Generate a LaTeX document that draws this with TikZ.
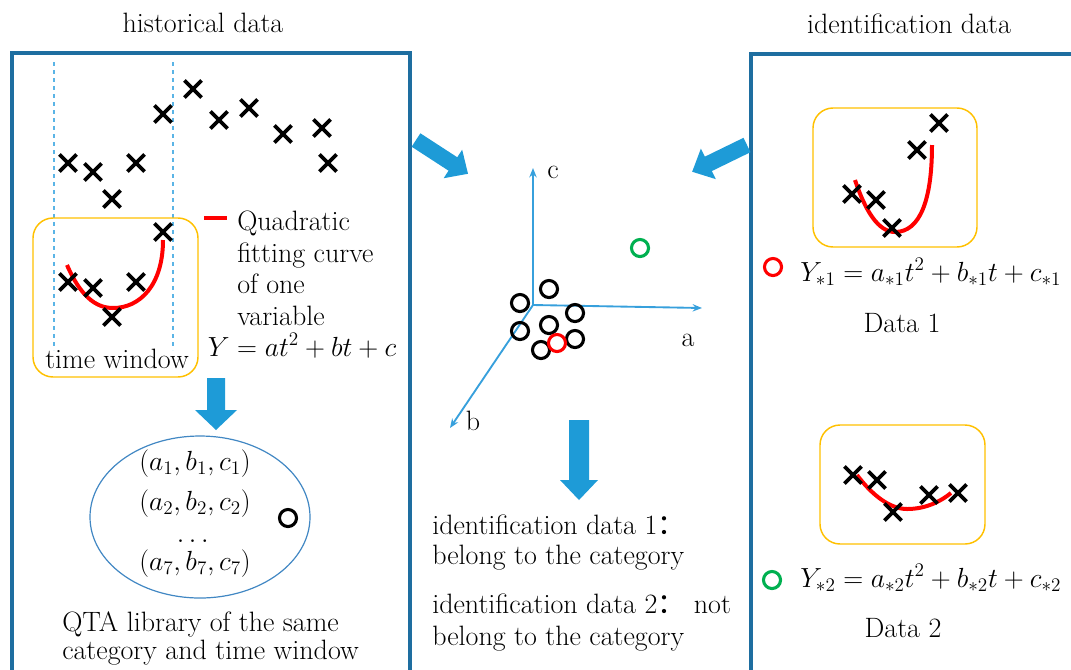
\documentclass[tikz,border=0pt]{standalone}
\usepackage{fontspec}
\usepackage{amsmath}
\usepackage{tikz}
\usetikzlibrary{shapes.misc,shapes.geometric,arrows.meta}
\newfontfamily\cjk{Noto Sans CJK SC}

\definecolor{boxblue}{RGB}{30,110,160}
\definecolor{arrowblue}{RGB}{30,155,215}
\definecolor{axisblue}{RGB}{55,160,220}
\definecolor{dashblue}{RGB}{90,180,230}
\definecolor{ellblue}{RGB}{65,135,195}
\definecolor{windoworange}{RGB}{255,192,0}
\definecolor{fitred}{RGB}{255,0,0}
\definecolor{ringgreen}{RGB}{0,176,80}

\tikzset{
  txt/.style={inner sep=0pt, font=\fontsize{21}{23.6}\selectfont},
  xmark/.style={cross out, draw=black, line width=2.7pt, minimum size=10.2pt, inner sep=0pt},
  ring/.style={circle, draw=#1, line width=2.3pt, minimum size=12.8pt, inner sep=0pt},
  ring/.default=black,
  window/.style={draw=windoworange, line width=1.1pt, rounded corners=15pt},
  fitcurve/.style={draw=fitred, line width=3pt},
  panel/.style={draw=boxblue, line width=3pt},
  axis/.style={draw=axisblue, line width=1.4pt, -{Stealth[length=7pt,width=5.5pt]}},
}

\begin{document}
\begin{tikzpicture}[x=0.75pt,y=0.75pt,yscale=-1,xscale=1]
        \useasboundingbox (0,0) rectangle (1071,669);
        \clip (0,0) rectangle (1071,669);

        % the two panels, both run past the page edge
        \draw [panel] (12,53) rectangle (410,720);
        \draw [panel] (751,54) rectangle (1100,720);
        \draw (203,32) node [txt, anchor=base] (histtitle) {historical data};
        \draw (909,33) node [txt, anchor=base] (idtitle) {identification data};

        % historical series and its time window
        \draw [dashed, dashblue, line width=0.8pt] (54,62) -- (54,350);
        \draw [dashed, dashblue, line width=0.8pt] (173,62) -- (173,350);
        \draw [window] (33,218) rectangle (198,377);
        \draw [fitcurve] (67,265) .. controls (80,295) and (95,308) .. (113,308) .. controls (140,308) and (163,285) .. (163,240);
        \node [xmark] (h1) at (68,163) {};
        \node [xmark] (h2) at (93,172) {};
        \node [xmark] (h3) at (136,163) {};
        \node [xmark] (h4) at (112,199) {};
        \node [xmark] (h5) at (163,114) {};
        \node [xmark] (h6) at (193,89) {};
        \node [xmark] (h7) at (219,120) {};
        \node [xmark] (h8) at (249,108) {};
        \node [xmark] (h9) at (283,134) {};
        \node [xmark] (h10) at (322,128) {};
        \node [xmark] (h11) at (328,163) {};
        \node [xmark] (w1) at (68,282) {};
        \node [xmark] (w2) at (93,288) {};
        \node [xmark] (w3) at (136,282) {};
        \node [xmark] (w4) at (112,317) {};
        \node [xmark] (w5) at (163,232) {};
        \draw (117,368) node [txt, anchor=base] (winlabel) {time window};
        \draw [fitcurve] (204,218) -- (227,218);
        \draw (237,211) node [txt, anchor=north west, align=left] (fitnote) {Quadratic\\fitting curve\\of one\\variable};
        \draw (302,356) node [txt, anchor=base] (fiteq) {$Y=at^2+bt+c$};

        % QTA library
        \fill [arrowblue] (207,378) -- (225,378) -- (225,410) -- (237,410) -- (216,430) -- (195,410) -- (207,410) -- cycle;
        \node [ellipse, draw=ellblue, line width=0.9pt, minimum width=165pt, minimum height=121.5pt, inner sep=0pt] (library) at (200,517) {};
        \draw (195,470) node [txt, anchor=base] (coef1) {$(a_1,b_1,c_1)$};
        \draw (195,510) node [txt, anchor=base] (coef2) {$(a_2,b_2,c_2)$};
        \draw (195,542) node [txt, anchor=base] (coefdots) {$\dots$};
        \draw (195,570) node [txt, anchor=base] (coef7) {$(a_7,b_7,c_7)$};
        \node [ring] (libring) at (288,518) {};
        \draw (62,611) node [txt, anchor=north west, align=left, font=\fontsize{21}{21}\selectfont] (libnote) {QTA library of the same\\category and time window};

        % arrows into the coefficient space
        \begin{scope}[shift={(416,140)}, rotate=33]
        \fill [arrowblue] (0,-8) -- (44,-8) -- (44,-17) -- (62,0) -- (44,17) -- (44,8) -- (0,8) -- cycle;
        \end{scope}
        \begin{scope}[shift={(747,145)}, rotate=154]
        \fill [arrowblue] (0,-8) -- (43,-8) -- (43,-17) -- (61,0) -- (43,17) -- (43,8) -- (0,8) -- cycle;
        \end{scope}

        % coefficient space a-b-c
        \coordinate (origin) at (533,305);
        \coordinate (aend) at (702,308);
        \coordinate (cend) at (533,168);
        \coordinate (bend) at (450,428);
        \draw [axis] (origin) -- (aend);
        \draw [axis] (origin) -- (cend);
        \draw [axis] (origin) -- (bend);
        \draw (553,172) node [txt] (clabel) {c};
        \draw (688,340) node [txt] (alabel) {a};
        \draw (473,421) node [txt] (blabel) {b};
        \node [ring] (k1) at (549,289) {};
        \node [ring] (k2) at (520,303) {};
        \node [ring] (k3) at (575,313) {};
        \node [ring] (k4) at (549,325) {};
        \node [ring] (k5) at (520,331) {};
        \node [ring] (k6) at (575,339) {};
        \node [ring] (k7) at (541,350) {};
        \node [ring=fitred] (cand1) at (557,343) {};
        \node [ring=ringgreen] (cand2) at (640,248) {};

        % result
        \fill [arrowblue] (569,420) -- (589,420) -- (589,480) -- (598,480) -- (579,500) -- (560,480) -- (569,480) -- cycle;
        \draw (432,515) node [txt, anchor=north west, align=left, font=\fontsize{21}{22.5}\selectfont] (verdict1) {identification data 1{\cjk ：}\\belong to the category};
        \draw (432,594) node [txt, anchor=north west, align=left] (verdict2) {identification data 2{\cjk ：} not\\belong to the category};

        % identification data 1
        \draw [window] (813,108) rectangle (977,247);
        \draw [fitcurve] (855,180) .. controls (865,210) and (878,232) .. (895,232) .. controls (920,232) and (932,200) .. (932,145);
        \node [xmark] (p1) at (852,194) {};
        \node [xmark] (p2) at (876,200) {};
        \node [xmark] (p3) at (892,228) {};
        \node [xmark] (p4) at (917,150) {};
        \node [xmark] (p5) at (939,123) {};
        \node [ring=fitred] (redring) at (773,267) {};
        \draw (800,281) node [txt, anchor=base west] (eq1) {$Y_{*1}=a_{*1}t^2+b_{*1}t+c_{*1}$};
        \draw (902,332) node [txt, anchor=base] (data1) {Data 1};

        % identification data 2
        \draw [window] (820,425) rectangle (985,544);
        \draw [fitcurve] (857,475) .. controls (872,495) and (890,509) .. (907,509) .. controls (925,509) and (940,502) .. (951,493);
        \node [xmark] (q1) at (853,475) {};
        \node [xmark] (q2) at (877,480) {};
        \node [xmark] (q3) at (893,512) {};
        \node [xmark] (q4) at (929,495) {};
        \node [xmark] (q5) at (958,493) {};
        \node [ring=ringgreen] (greenring) at (772,580) {};
        \draw (800,587) node [txt, anchor=base west] (eq2) {$Y_{*2}=a_{*2}t^2+b_{*2}t+c_{*2}$};
        \draw (903,637) node [txt, anchor=base] (data2) {Data 2};
    \end{tikzpicture}
\end{document}
